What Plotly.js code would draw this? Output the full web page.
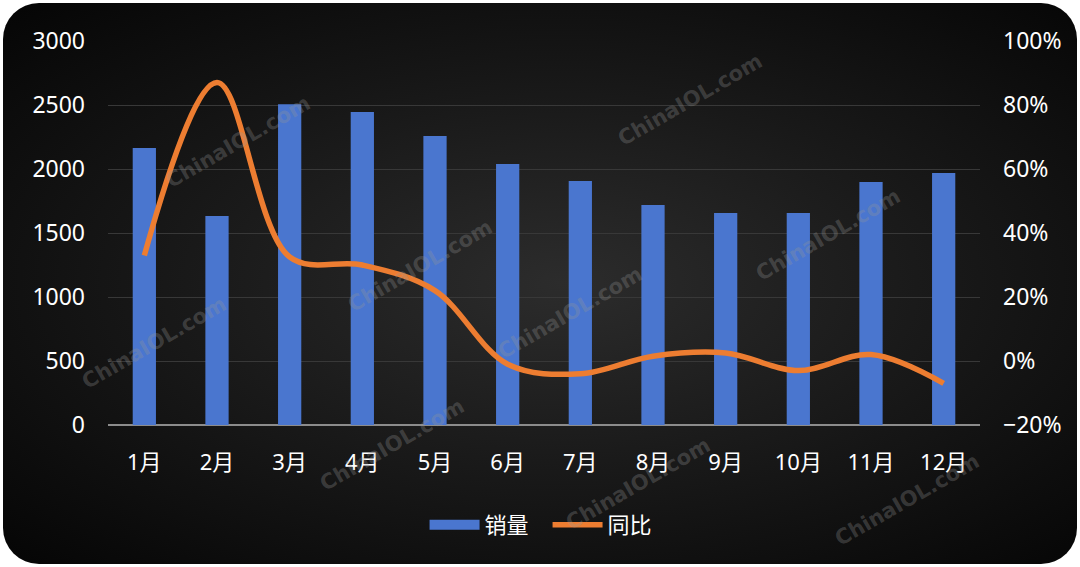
<!DOCTYPE html>
<html>
<head>
<meta charset="utf-8">
<script src="https://cdn.plot.ly/plotly-3.0.1.min.js"></script>
<style>
  body { margin: 0; background: #fff; }
  #wrap { position: relative; width: 1080px; height: 567px; }
  #bg {
    position: absolute; left: 3px; top: 3px; width: 1074px; height: 561px;
    border-radius: 36px;
    background: radial-gradient(ellipse at 52% 50%, #2c2c2c 0%, #1a1a1a 45%, #050505 100%);
  }
  #chart { position: absolute; left: 0; top: 0; width: 1080px; height: 567px; }
</style>
</head>
<body>
<div id="wrap">
  <div id="bg"></div>
  <div id="chart"></div>
</div>
<script>
var months = ['1月', '2月', '3月', '4月', '5月', '6月', '7月', '8月', '9月', '10月', '11月', '12月'];
var sales = [2165, 1633, 2505, 2445, 2258, 2040, 1906, 1719, 1656, 1656, 1898, 1969];
var yoy = [33, 87, 32.5, 30, 22, -1, -4, 1.5, 2.5, -3, 2, -7];

var fontFamily = '"Noto Sans", "Noto Sans CJK SC", sans-serif';
var barColor = '#4a76cf';

var barTrace = {
    x: months,
    y: sales,
    name: '销量',
    type: 'bar',
    width: 0.32,
    showlegend: false,
    marker: {
        color: barColor,
        line: { width: 0 }
    },
    yaxis: 'y'
};

// wide rectangle swatch for the bar series in the legend
var barLegend = {
    x: [months[0]],
    y: [null],
    name: '销量',
    type: 'scatter',
    mode: 'lines',
    line: { color: barColor, width: 13 },
    yaxis: 'y'
};

var lineTrace = {
    x: months,
    y: yoy,
    name: '同比',
    type: 'scatter',
    mode: 'lines',
    line: {
        color: '#ed7d31',
        width: 5.5,
        shape: 'spline',
        smoothing: 1
    },
    yaxis: 'y2'
};

// watermark centres in pixels
var marks = [
    [238, 142], [690, 100], [828, 235], [420, 266], [570, 313],
    [154, 343], [392, 445], [638, 484], [907, 500]
];
var annotations = marks.map(function (m) {
    return {
        xref: 'paper', yref: 'paper',
        x: (m[0] - 108) / 872, y: 1 - (m[1] - 41) / 384,
        xanchor: 'center', yanchor: 'middle',
        text: '<b>ChinaIOL.com</b>',
        showarrow: false,
        textangle: -30,
        font: { family: 'DejaVu Sans, sans-serif', size: 21, color: 'rgba(150,150,150,0.3)' }
    };
});

var layout = {
    width: 1080,
    height: 567,
    margin: { l: 108, r: 100, t: 41, b: 142 },
    paper_bgcolor: 'rgba(0,0,0,0)',
    plot_bgcolor: 'rgba(0,0,0,0)',
    font: { family: fontFamily, color: '#ffffff', size: 22 },
    bargap: 0.68,
    xaxis: {
        type: 'category',
        showgrid: false,
        zeroline: false,
        showline: false,
        ticks: '',
        tickfont: { size: 22, color: '#ffffff' },
        ticklabelstandoff: 22
    },
    yaxis: {
        range: [0, 3000],
        dtick: 500,
        showgrid: true,
        gridcolor: '#383838',
        gridwidth: 1,
        zeroline: true,
        zerolinecolor: '#8c8c8c',
        zerolinewidth: 2,
        ticks: '',
        tickfont: { size: 23, color: '#ffffff' },
        ticklabelstandoff: 22
    },
    yaxis2: {
        overlaying: 'y',
        side: 'right',
        range: [-20, 100],
        dtick: 20,
        ticksuffix: '%',
        showgrid: false,
        zeroline: false,
        ticks: '',
        tickfont: { size: 23, color: '#ffffff' },
        ticklabelstandoff: 22
    },
    showlegend: true,
    legend: {
        orientation: 'h',
        x: 0.507,
        xanchor: 'center',
        xref: 'container',
        y: 0.074,
        yref: 'container',
        yanchor: 'middle',
        itemwidth: 50,
        entrywidth: 58,
        font: { size: 22, color: '#ffffff' },
        bgcolor: 'rgba(0,0,0,0)'
    },
    annotations: annotations
};

var config = {
    responsive: false,
    staticPlot: true
};

Plotly.newPlot('chart', [barTrace, barLegend, lineTrace], layout, config);
</script>
</body>
</html>
